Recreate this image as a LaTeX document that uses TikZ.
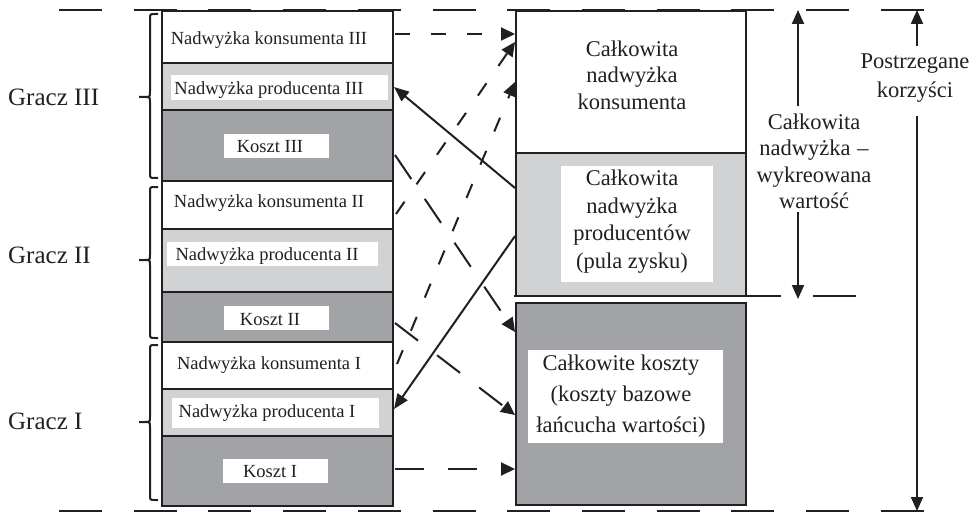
\documentclass[tikz,border=0pt]{standalone}
\usepackage{fontspec}
\setmainfont{Liberation Serif}
\usetikzlibrary{arrows.meta}
\definecolor{lgray}{RGB}{208,210,211}
\definecolor{dgray}{RGB}{162,163,166}
\definecolor{ink}{RGB}{35,31,32}
\begin{document}
\begin{tikzpicture}[x=1pt,y=-1pt,
  box/.style={draw=ink, line width=2.2pt, inner sep=0pt, anchor=north west},
  wbg/.style={fill=white, inner sep=0pt, anchor=north west},
  lab/.style={font=\fontsize{18.5}{20}\selectfont, text=ink, inner sep=0pt, anchor=base},
  gracz/.style={font=\fontsize{25}{28}\selectfont, text=ink, inner sep=0pt, anchor=base west},
  big/.style={font=\fontsize{22.5}{26.5}\selectfont, text=ink, align=center, inner sep=0pt},
  guide/.style={draw=ink, line width=2pt, dash pattern=on 43pt off 31.7pt},
  sdash/.style={draw=ink, line width=2pt, dash pattern=on 15pt off 21pt, -{Triangle[length=14pt,width=13pt]}},
  ldash/.style={draw=ink, line width=2pt, dash pattern=on 29pt off 24pt, -{Triangle[length=14pt,width=13pt]}},
  sarrow/.style={draw=ink, line width=2pt, -{Triangle[length=15pt,width=12pt]}},
  varrow/.style={draw=ink, line width=2pt, -{Triangle[length=14pt,width=12pt]}},
  brace/.style={draw=ink, line width=2pt}
]
\useasboundingbox (0,0) rectangle (976,513);

% left column
\node[box, fill=white, minimum width=231pt, minimum height=52pt] (c3) at (161,10) {};
\node[box, fill=lgray, minimum width=231pt, minimum height=47pt] (p3) at (161,62) {};
\node[box, fill=dgray, minimum width=231pt, minimum height=71pt] (k3) at (161,109) {};
\node[box, fill=white, minimum width=231pt, minimum height=48pt] (c2) at (161,180) {};
\node[box, fill=lgray, minimum width=231pt, minimum height=63pt] (p2) at (161,228) {};
\node[box, fill=dgray, minimum width=231pt, minimum height=50pt] (k2) at (161,291) {};
\node[box, fill=white, minimum width=231pt, minimum height=47pt] (c1) at (161,341) {};
\node[box, fill=lgray, minimum width=231pt, minimum height=47pt] (p1) at (161,388) {};
\node[box, fill=dgray, minimum width=231pt, minimum height=70pt] (k1) at (161,435) {};

% right column
\node[box, fill=white, minimum width=230pt, minimum height=142pt] (ct) at (515,10) {};
\node[box, fill=lgray, minimum width=230pt, minimum height=143pt] (pt) at (515,152) {};
\node[box, fill=dgray, minimum width=230pt, minimum height=202pt] (kt) at (515,302) {};

% white label backgrounds
\node[wbg, minimum width=217pt, minimum height=25pt] (wp3) at (171,75) {};
\node[wbg, minimum width=105pt, minimum height=24pt] (wk3) at (224,134) {};
\node[wbg, minimum width=211pt, minimum height=24pt] (wp2) at (167,242) {};
\node[wbg, minimum width=105pt, minimum height=24pt] (wk2) at (224,306) {};
\node[wbg, minimum width=207pt, minimum height=30pt] (wp1) at (172,398) {};
\node[wbg, minimum width=105pt, minimum height=24pt] (wk1) at (223,459) {};
\node[wbg, minimum width=152pt, minimum height=116pt] (wpt) at (561,166) {};
\node[wbg, minimum width=195pt, minimum height=93pt] (wkt) at (528,350) {};

% left labels
\node[lab] (tc3) at (269,45) {Nadwyżka konsumenta III};
\node[lab] (tp3) at (269,94.5) {Nadwyżka producenta III};
\node[lab] (tk3) at (270,152.5) {Koszt III};
\node[lab] (tc2) at (269,207.5) {Nadwyżka konsumenta II};
\node[lab] (tp2) at (267,260) {Nadwyżka producenta II};
\node[lab] (tk2) at (270,325.5) {Koszt II};
\node[lab] (tc1) at (269,369.5) {Nadwyżka konsumenta I};
\node[lab] (tp1) at (267,417.5) {Nadwyżka producenta I};
\node[lab] (tk1) at (270,477.5) {Koszt I};

% right labels
\node[big] (tct) at (632,75) {Całkowita\\nadwyżka\\konsumenta};
\node[big, font=\fontsize{22.5}{27.5}\selectfont] (tpt) at (632,221.5) {Całkowita\\nadwyżka\\producentów\\(pula zysku)};
\node[big, font=\fontsize{22.5}{31}\selectfont] (tkt) at (621,396) {Całkowite koszty\\(koszty bazowe\\łańcucha wartości)};

% players
\node[gracz] (g3) at (8,106) {Gracz III};
\node[gracz] (g2) at (8,263) {Gracz II};
\node[gracz] (g1) at (8,429) {Gracz I};

% braces
\draw[brace] (158,14) -- (155,14) .. controls (150,14) .. (150,19) -- (150,92)
  .. controls (150,97) .. (145,97) -- (139,97)
  (145,97) .. controls (150,97) .. (150,102) -- (150,173)
  .. controls (150,178) .. (155,178) -- (158,178);
\draw[brace] (158,187) -- (155,187) .. controls (150,187) .. (150,192) -- (150,255)
  .. controls (150,260) .. (145,260) -- (139,260)
  (145,260) .. controls (150,260) .. (150,265) -- (150,333)
  .. controls (150,338) .. (155,338) -- (158,338);
\draw[brace] (158,345) -- (155,345) .. controls (150,345) .. (150,350) -- (150,417)
  .. controls (150,422) .. (145,422) -- (139,422)
  (145,422) .. controls (150,422) .. (150,427) -- (150,495)
  .. controls (150,500) .. (155,500) -- (158,500);

% guide lines
\coordinate (gtl) at (59,10);  \coordinate (gtr) at (924,10);
\coordinate (gbl) at (59,511); \coordinate (gbr) at (924,511);
\coordinate (gml) at (514,296); \coordinate (gmr) at (856,296);
\draw[guide] (gtl) -- (gtr);
\draw[guide] (gbl) -- (gbr);
\draw[guide] (gml) -- (gmr);

% connectors
\coordinate (s1) at (395,34);   \coordinate (e1) at (515,34);
\coordinate (s2) at (396,214);  \coordinate (e2) at (515,42);
\coordinate (s3) at (397,364);  \coordinate (e3) at (515,82);
\coordinate (s4) at (395,155);  \coordinate (e4) at (515,332);
\coordinate (s5) at (395,323);  \coordinate (e5) at (515,415);
\coordinate (s6) at (395,469);  \coordinate (e6) at (515,469);
\coordinate (s7) at (515,188);  \coordinate (e7) at (394,87);
\coordinate (s8) at (515,236);  \coordinate (e8) at (394,409);
\draw[sdash] (s1) -- (e1);
\draw[sdash] (s2) -- (e2);
\draw[sdash] (s3) -- (e3);
\draw[ldash] (s4) -- (e4);
\draw[ldash] (s5) -- (e5);
\draw[ldash] (s6) -- (e6);
\draw[sarrow] (s7) -- (e7);
\draw[sarrow] (s8) -- (e8);

% vertical arrows
\node[big] (tv) at (814,161.5) {Całkowita\\nadwyżka\hspace{7pt}–\\wykreowana\\wartość};
\coordinate (tvu) at (798,106); \coordinate (tvtop) at (798,10);
\coordinate (tvd) at (798,212); \coordinate (tvbot) at (798,299);
\draw[varrow] (tvu) -- (tvtop);
\draw[varrow] (tvd) -- (tvbot);

\node[big, font=\fontsize{22.5}{29}\selectfont] (pk) at (915,78) {Postrzegane\\korzyści};
\coordinate (pku) at (917,46); \coordinate (pktop) at (917,10);
\coordinate (pkd) at (917,116); \coordinate (pkbot) at (917,511);
\draw[varrow] (pku) -- (pktop);
\draw[varrow] (pkd) -- (pkbot);
\end{tikzpicture}
\end{document}
